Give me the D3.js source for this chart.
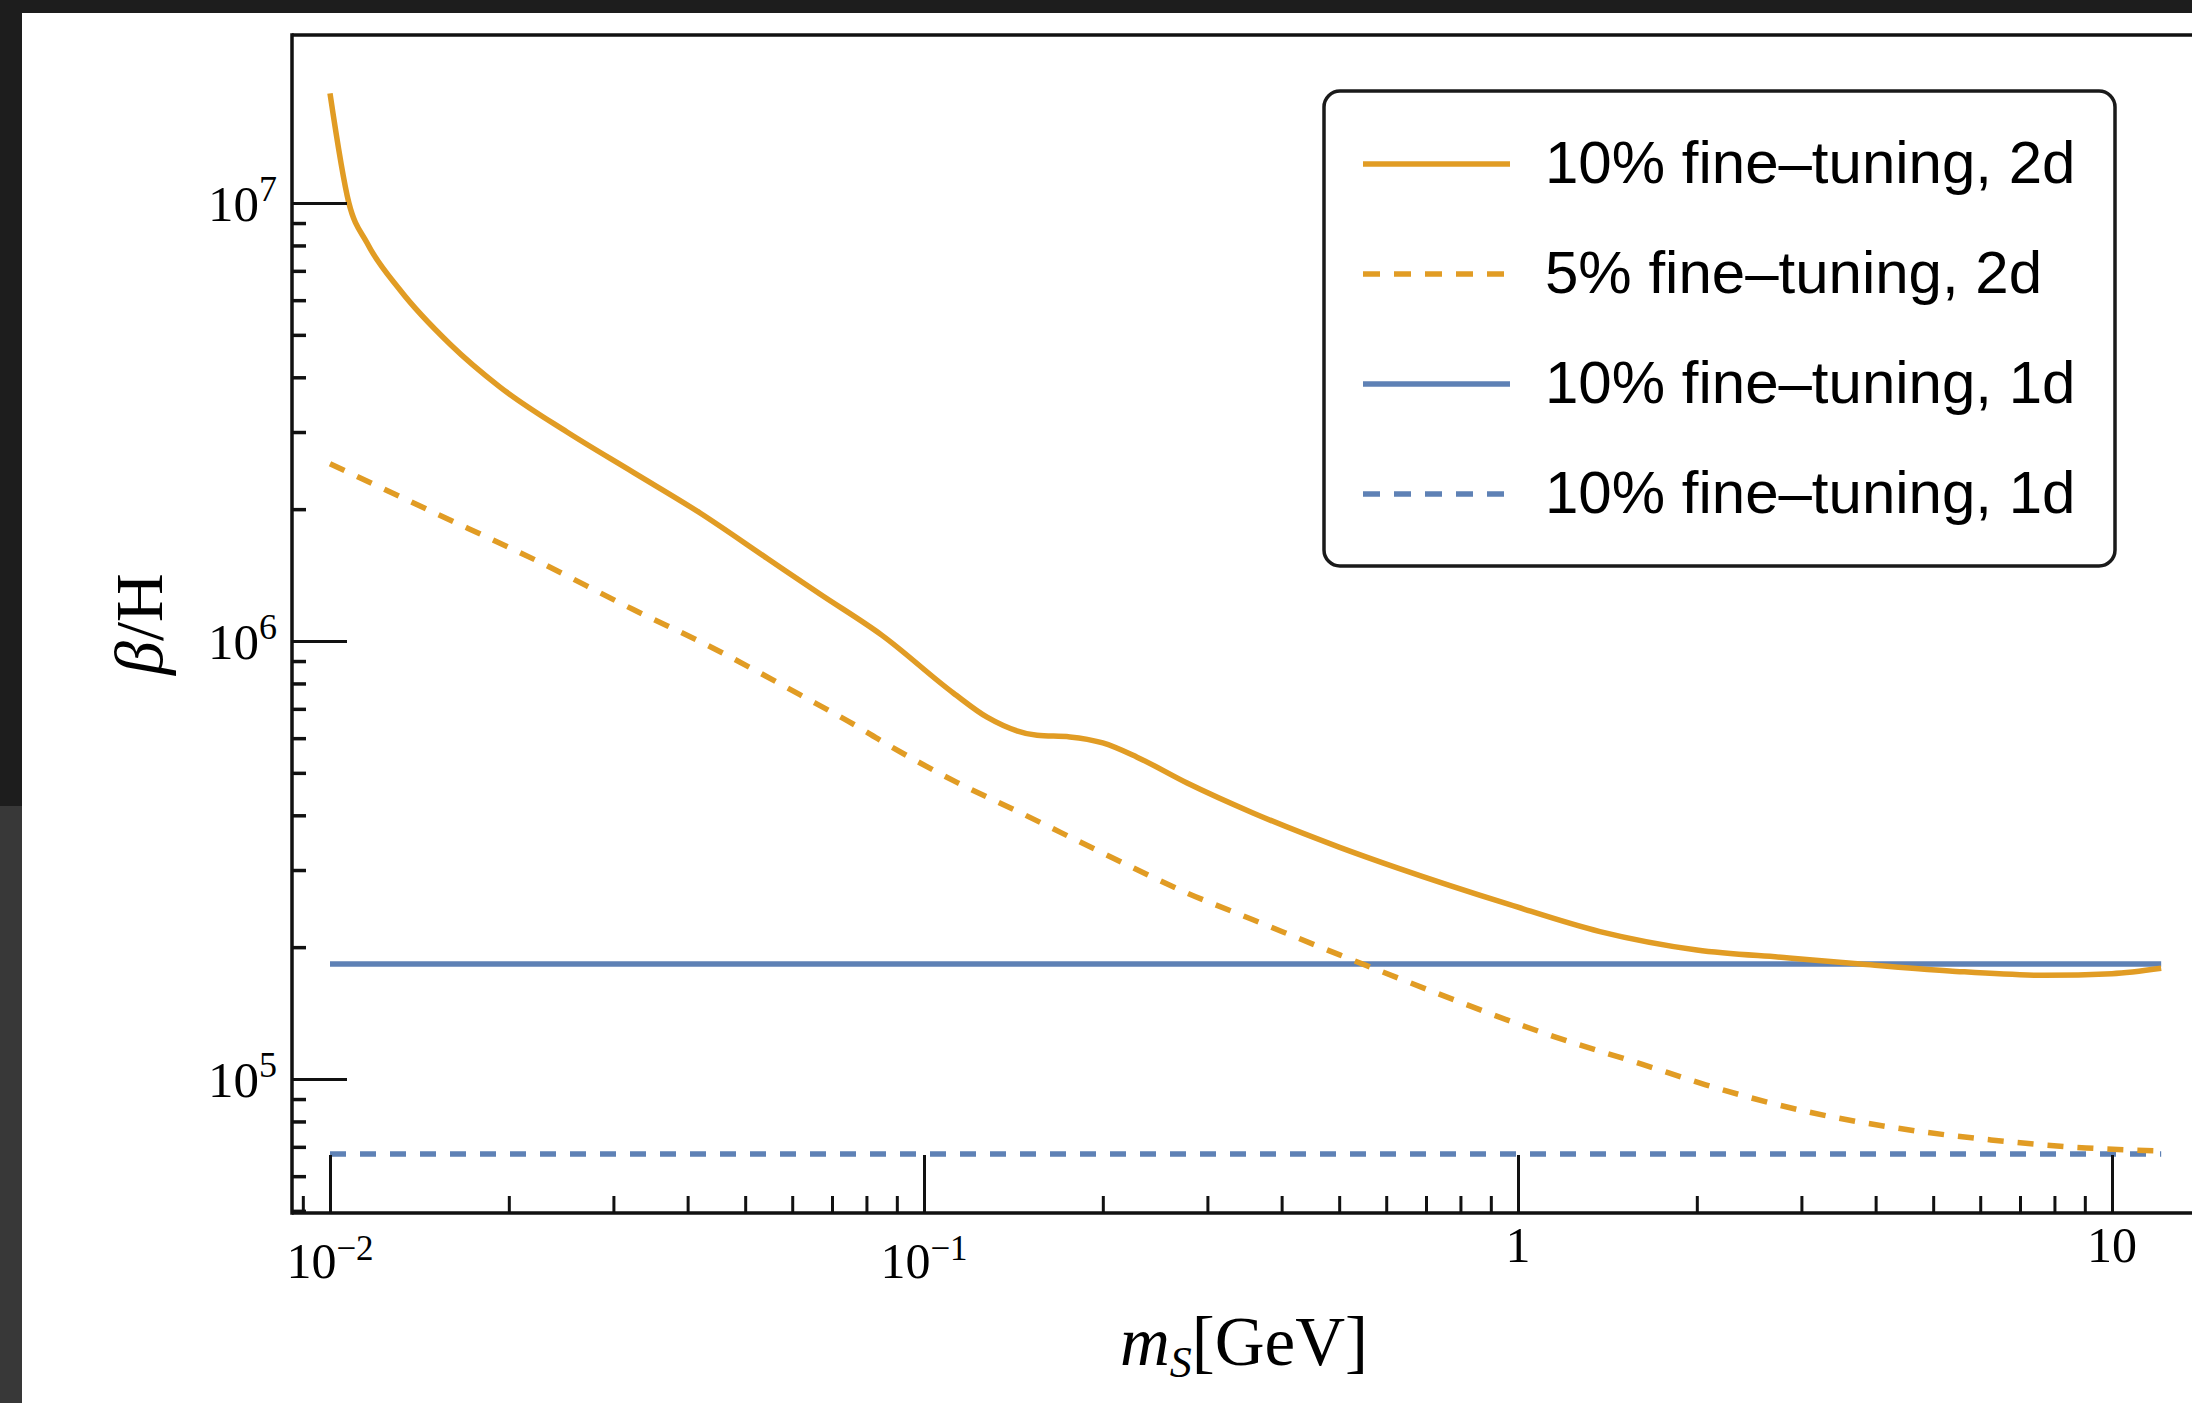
<!DOCTYPE html>
<html>
<head>
<meta charset="utf-8">
<script src="https://cdn.jsdelivr.net/npm/d3@7"></script>
<style>
  body { margin: 0; background: #1d1d1d; }
  svg { display: block; }
</style>
</head>
<body>
<script>
// page size and plot frame
const W = 2192, H = 1403;
const FRAME = { left: 292, top: 35, bottom: 1213, right: 2200 };

// 10% fine-tuning, 2d (solid orange)
const tenPct2dMass = [0.01, 0.01076, 0.01154, 0.01312, 0.01593, 0.01933, 0.02506, 0.03236, 0.04198, 0.05441,
    0.0668, 0.085, 0.112, 0.1277, 0.155, 0.176, 0.2, 0.2284, 0.2773, 0.358, 0.501, 0.628, 0.969, 1.374,
    2.0, 2.86, 3.77, 5.33, 7.7, 10, 12.1];
const tenPct2dBeta = [1.78e7, 1.0e7, 8.11e6, 6.33e6, 4.76e6, 3.80e6, 3.0e6, 2.43e6, 1.96e6, 1.545e6,
    1.28e6, 1.03e6, 7.61e5, 6.70e5, 6.09e5, 6.04e5, 5.85e5, 5.43e5, 4.74e5, 4.05e5, 3.38e5, 3.03e5, 2.5e5, 2.17e5,
    1.97e5, 1.89e5, 1.83e5, 1.765e5, 1.725e5, 1.74e5, 1.79e5];

// 5% fine-tuning, 2d (dashed orange)
const fivePct2dMass = [0.01, 0.0149, 0.02197, 0.0324, 0.0441, 0.0618, 0.078, 0.0843, 0.1138, 0.145, 0.2,
    0.277, 0.358, 0.501, 0.818, 0.993, 1.15, 1.62, 2.07, 3.08, 4.33, 6.25, 9.04, 12.1];
const fivePct2dBeta = [2.54e6, 1.97e6, 1.54e6, 1.18e6, 9.64e5, 7.54e5, 6.33e5, 5.94e5, 4.75e5, 4.06e5, 3.28e5,
    2.66e5, 2.31e5, 1.92e5, 1.48e5, 1.34e5, 1.25e5, 1.08e5, 9.7e4, 8.41e4, 7.73e4, 7.26e4, 6.96e4, 6.85e4];

// 1d bounds (flat blue lines)
const oneDMass = [0.01, 12.1];
const tenPct1dBeta = [1.83e5, 1.83e5];
const tenPct1dDashedBeta = [6.74e4, 6.74e4];

// ticks
const xMajor = [0.01, 0.1, 1, 10];
const xTickBase = ['10', '10', '1', '10'];
const xTickExp = ['\u22122', '\u22121', '', ''];
const xMinor = [0.009, 0.02, 0.03, 0.04, 0.05, 0.06, 0.07, 0.08, 0.09, 0.2, 0.3, 0.4, 0.5, 0.6, 0.7, 0.8, 0.9,
    2, 3, 4, 5, 6, 7, 8, 9];
const yMajor = [1e5, 1e6, 1e7];
const yTickExp = ['5', '6', '7'];
const yMinor = [5e4, 6e4, 7e4, 8e4, 9e4, 2e5, 3e5, 4e5, 5e5, 6e5, 7e5, 8e5, 9e5,
    2e6, 3e6, 4e6, 5e6, 6e6, 7e6, 8e6, 9e6];

// legend
const legendLabels = ['10% fine\u2013tuning, 2d', '5% fine\u2013tuning, 2d', '10% fine\u2013tuning, 1d', '10% fine\u2013tuning, 1d'];

const ORANGE = '#e19c24', BLUE = '#5e81b5';
const series = [
    { mass: oneDMass, beta: tenPct1dBeta, color: BLUE, dash: null },
    { mass: oneDMass, beta: tenPct1dDashedBeta, color: BLUE, dash: '16,14' },
    { mass: tenPct2dMass, beta: tenPct2dBeta, color: ORANGE, dash: null },
    { mass: fivePct2dMass, beta: fivePct2dBeta, color: ORANGE, dash: '16,14' }
];
const legendStyles = [
    { color: ORANGE, dash: null },
    { color: ORANGE, dash: '17,14' },
    { color: BLUE, dash: null },
    { color: BLUE, dash: '17,14' }
];

const SERIF = "'Liberation Serif', 'Times New Roman', Times, serif";
const SANS = "'Liberation Sans', Arial, Helvetica, sans-serif";
const LINE_W = 5.5;

const x = d3.scaleLog().domain([0.01, 10]).range([330, 2112]);
const y = d3.scaleLog().domain([1e5, 1e7]).range([1079, 203]);

const svg = d3.select('body').append('svg')
    .attr('width', W)
    .attr('height', H);

// dark screenshot border round the white figure
svg.append('rect').attr('width', W).attr('height', H).attr('fill', '#1d1d1d');
svg.append('rect').attr('x', 0).attr('y', 806).attr('width', 22).attr('height', H - 806).attr('fill', '#383838');
svg.append('rect').attr('x', 22).attr('y', 13).attr('width', W - 22).attr('height', H - 13).attr('fill', '#ffffff');

// curves
const line = d3.line()
    .x(d => x(d[0]))
    .y(d => y(d[1]))
    .curve(d3.curveMonotoneX);

svg.append('g').selectAll('path')
    .data(series)
    .join('path')
    .attr('d', s => line(s.mass.map((m, i) => [m, s.beta[i]])))
    .attr('fill', 'none')
    .attr('stroke', s => s.color)
    .attr('stroke-width', LINE_W)
    .attr('stroke-dasharray', s => s.dash);

// axes: major + minor ticks pointing inwards
const styleTicks = (g, w) => {
    g.select('.domain').remove();
    g.selectAll('.tick line').attr('stroke', '#111').attr('stroke-width', w);
};

svg.append('g')
    .attr('transform', `translate(0,${FRAME.bottom})`)
    .call(d3.axisBottom(x).tickValues(xMajor).tickSize(-58).tickSizeOuter(0).tickFormat(''))
    .call(g => styleTicks(g, 3));
svg.append('g')
    .attr('transform', `translate(0,${FRAME.bottom})`)
    .call(d3.axisBottom(x).tickValues(xMinor).tickSize(-17).tickSizeOuter(0).tickFormat(''))
    .call(g => styleTicks(g, 3));
svg.append('g')
    .attr('transform', `translate(${FRAME.left},0)`)
    .call(d3.axisLeft(y).tickValues(yMajor).tickSize(-55).tickSizeOuter(0).tickFormat(''))
    .call(g => styleTicks(g, 3));
svg.append('g')
    .attr('transform', `translate(${FRAME.left},0)`)
    .call(d3.axisLeft(y).tickValues(yMinor).tickSize(-14).tickSizeOuter(0).tickFormat(''))
    .call(g => styleTicks(g, 3.5));

// frame
const frame = svg.append('g').attr('stroke', '#111').attr('stroke-width', 3.5);
frame.append('line').attr('x1', FRAME.left).attr('x2', FRAME.left).attr('y1', FRAME.top - 1.75).attr('y2', FRAME.bottom + 1.75);
frame.append('line').attr('x1', FRAME.left).attr('x2', FRAME.right).attr('y1', FRAME.bottom).attr('y2', FRAME.bottom);
frame.append('line').attr('x1', FRAME.left).attr('x2', FRAME.right).attr('y1', FRAME.top).attr('y2', FRAME.top);

// tick labels
svg.append('g')
    .attr('font-family', SERIF)
    .attr('font-size', 50)
    .selectAll('text')
    .data(xMajor)
    .join('text')
    .attr('x', d => x(d))
    .attr('y', (d, i) => xTickExp[i] ? 1278 : 1262)
    .attr('text-anchor', 'middle')
    .each(function (d, i) {
        const t = d3.select(this);
        t.append('tspan').text(xTickBase[i]);
        if (xTickExp[i]) t.append('tspan').attr('dy', -18).attr('font-size', 35).text(xTickExp[i]);
    });

svg.append('g')
    .attr('font-family', SERIF)
    .attr('font-size', 51)
    .selectAll('text')
    .data(yMajor)
    .join('text')
    .attr('x', 277)
    .attr('y', d => y(d) + 18)
    .attr('text-anchor', 'end')
    .each(function (d, i) {
        const t = d3.select(this);
        t.append('tspan').text('10');
        t.append('tspan').attr('dy', -20).attr('font-size', 36).text(yTickExp[i]);
    });

// axis titles
const xTitle = svg.append('text')
    .attr('x', (FRAME.left + FRAME.right) / 2 - 2)
    .attr('y', 1365)
    .attr('text-anchor', 'middle')
    .attr('font-family', SERIF)
    .attr('font-size', 69);
xTitle.append('tspan').attr('font-style', 'italic').text('m');
xTitle.append('tspan').attr('font-style', 'italic').attr('font-size', 44).attr('dy', 12).text('S');
xTitle.append('tspan').attr('dy', -12).text('[GeV]');

const yTitle = svg.append('text')
    .attr('transform', `translate(162,${(FRAME.top + FRAME.bottom) / 2}) rotate(-90)`)
    .attr('text-anchor', 'middle')
    .attr('font-family', SERIF)
    .attr('font-size', 68);
yTitle.append('tspan').attr('font-style', 'italic').text('\u03b2');
yTitle.append('tspan').text('/H');

// legend
const legend = svg.append('g');
legend.append('rect')
    .attr('x', 1324).attr('y', 91)
    .attr('width', 791).attr('height', 475)
    .attr('rx', 16)
    .attr('fill', '#fff')
    .attr('stroke', '#1a1a1a')
    .attr('stroke-width', 3.5);

const rows = legend.selectAll('g.row')
    .data(legendLabels)
    .join('g')
    .attr('class', 'row')
    .attr('transform', (d, i) => `translate(0,${164 + i * 110})`);
rows.append('line')
    .attr('x1', 1363).attr('x2', 1510)
    .attr('stroke', (d, i) => legendStyles[i].color)
    .attr('stroke-width', LINE_W)
    .attr('stroke-dasharray', (d, i) => legendStyles[i].dash);
rows.append('text')
    .attr('x', 1545)
    .attr('y', 19)
    .attr('font-family', SANS)
    .attr('font-size', 60)
    .attr('fill', '#000')
    .text(d => d);
</script>
</body>
</html>
